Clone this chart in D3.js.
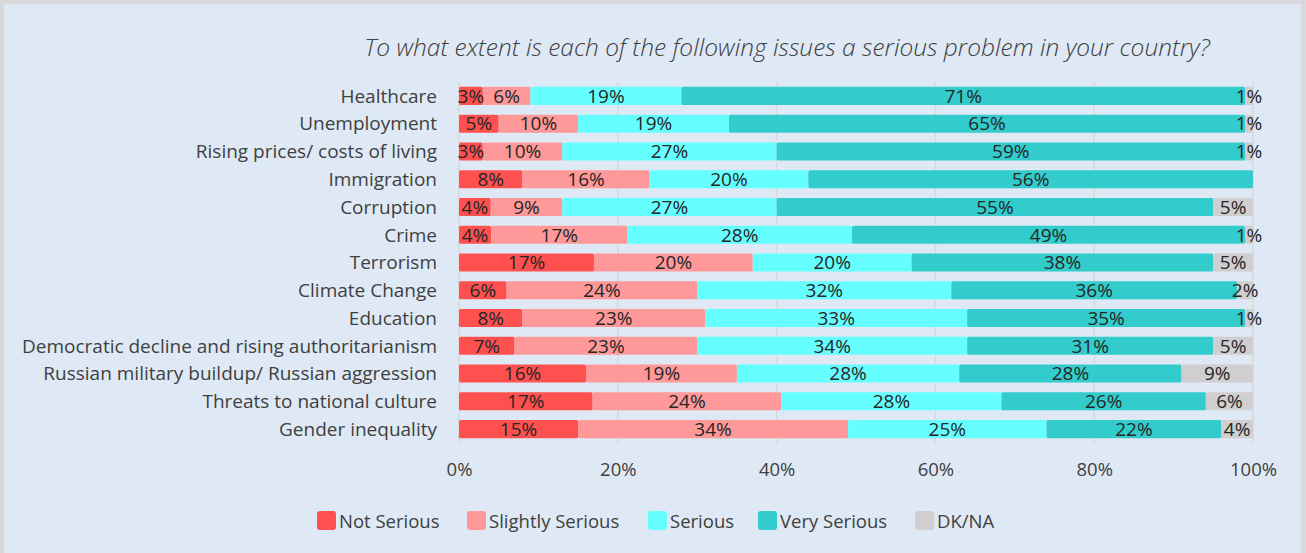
<!DOCTYPE html>
<html>
<head>
<meta charset="utf-8">
<script src="https://cdn.jsdelivr.net/npm/d3@7"></script>
<style>
  html, body { margin: 0; padding: 0; background: #ffffff; }
  svg { display: block; }
  text { font-family: "Open Sans", "Noto Sans", sans-serif; fill: #404040; }
</style>
</head>
<body>
<script>
// ----- data ----- //
const categories = [
  "Healthcare", "Unemployment", "Rising prices/ costs of living", "Immigration",
  "Corruption", "Crime", "Terrorism", "Climate Change", "Education",
  "Democratic decline and rising authoritarianism",
  "Russian military buildup/ Russian aggression",
  "Threats to national culture", "Gender inequality"
];
const seriesNames = ["Not Serious", "Slightly Serious", "Serious", "Very Serious", "DK/NA"];
const seriesColors = ["#FF5050", "#FF9999", "#66FFFF", "#33CCCC", "#D0CECE"];

const notSerious      = [3, 5, 3, 8, 4, 4, 17, 6, 8, 7, 16, 17, 15];
const slightlySerious = [6, 10, 10, 16, 9, 17, 20, 24, 23, 23, 19, 24, 34];
const serious         = [19, 19, 27, 20, 27, 28, 20, 32, 33, 34, 28, 28, 25];
const verySerious     = [71, 65, 59, 56, 55, 49, 38, 36, 35, 31, 28, 26, 22];
const dkna            = [1, 1, 1, 0, 5, 1, 5, 2, 1, 5, 9, 6, 4];

const xTicks = [0, 20, 40, 60, 80, 100];
const title = "To what extent is each of the following issues a serious problem in your country?";

// ----- layout ----- //
const W = 1306, H = 553;
const plot = {left: 459, right: 1253, top: 82, bottom: 443};
const fontSize = "18.5px";

const svg = d3.select("body").append("svg")
  .attr("width", W)
  .attr("height", H);

// frame + panel
svg.append("rect").attr("x", 0).attr("y", 0).attr("width", W).attr("height", H).attr("fill", "#D9D9D9");
svg.append("rect").attr("x", 4).attr("y", 4).attr("width", W - 9).attr("height", H - 4).attr("fill", "#DEE9F5");

svg.append("text")
  .attr("x", 787)
  .attr("y", 56)
  .attr("text-anchor", "middle")
  .style("font-style", "italic")
  .style("font-weight", 300)
  .style("font-size", "24.5px")
  .text(title);

// build rows, 100% stacked (each row normalised to its total)
const series = [notSerious, slightlySerious, serious, verySerious, dkna];
const rows = categories.map((c, i) => {
  const row = {category: c};
  seriesNames.forEach((s, k) => row[s] = series[k][i]);
  return row;
});

const stack = d3.stack().keys(seriesNames).offset(d3.stackOffsetExpand);
const stacked = stack(rows);

const x = d3.scaleLinear().domain([0, 1]).range([plot.left, plot.right]);
const y = d3.scaleBand()
  .domain(categories)
  .range([plot.top, plot.bottom])
  .paddingInner(0.35)
  .paddingOuter(0.175);

// gridlines
svg.append("g")
  .selectAll("line")
  .data(xTicks)
  .enter()
  .append("line")
  .attr("x1", d => x(d / 100))
  .attr("x2", d => x(d / 100))
  .attr("y1", plot.top)
  .attr("y2", plot.bottom)
  .attr("stroke", "#D9D9D9")
  .attr("stroke-width", 1.5);

// bars
const layers = svg.append("g")
  .selectAll("g")
  .data(stacked)
  .enter()
  .append("g")
  .attr("fill", (d, k) => seriesColors[k]);

layers.selectAll("rect")
  .data(d => d.filter(p => p[1] - p[0] > 0))
  .enter()
  .append("rect")
  .attr("x", d => x(d[0]))
  .attr("y", d => y(d.data.category))
  .attr("width", d => x(d[1]) - x(d[0]))
  .attr("height", y.bandwidth())
  .attr("rx", 1.5);

// value labels
stacked.forEach((layer, k) => {
  svg.append("g")
    .selectAll("text")
    .data(layer.filter(p => p.data[layer.key] > 0))
    .enter()
    .append("text")
    .attr("x", d => (x(d[0]) + x(d[1])) / 2)
    .attr("y", d => y(d.data.category) + y.bandwidth() / 2)
    .attr("dy", "0.36em")
    .attr("text-anchor", "middle")
    .style("font-size", "19px")
    .style("fill", "#262626")
    .text(d => d.data[layer.key] + "%");
});

// category labels
const axisY = d3.axisLeft(y).tickSize(0).tickPadding(22);
svg.append("g")
  .attr("transform", `translate(${plot.left}, 0)`)
  .call(axisY)
  .call(g => g.select(".domain").remove())
  .selectAll("text")
  .attr("dy", "0.36em")
  .style("font-size", "19px")
  .style("fill", "#404040")
  .style("font-family", '"Open Sans", "Noto Sans", sans-serif');

// x axis
const axisX = d3.axisBottom(x).tickValues(xTicks.map(t => t / 100))
  .tickFormat(d => Math.round(d * 100) + "%").tickSize(0).tickPadding(20);
svg.append("g")
  .attr("transform", `translate(0, ${plot.bottom})`)
  .call(axisX)
  .call(g => g.select(".domain").remove())
  .selectAll("text")
  .style("font-size", fontSize)
  .style("fill", "#404040")
  .style("font-family", '"Open Sans", "Noto Sans", sans-serif');

// legend
const legendX = [317, 467, 648, 758, 915];
const legend = svg.append("g")
  .selectAll("g")
  .data(seriesNames)
  .enter()
  .append("g")
  .attr("transform", (d, i) => `translate(${legendX[i]}, 511)`);

legend.append("rect")
  .attr("width", 19)
  .attr("height", 19)
  .attr("rx", 3)
  .attr("fill", (d, i) => seriesColors[i]);

legend.append("text")
  .attr("x", 22)
  .attr("y", 10)
  .attr("dy", "0.36em")
  .style("font-size", fontSize)
  .text(d => d);
</script>
</body>
</html>
